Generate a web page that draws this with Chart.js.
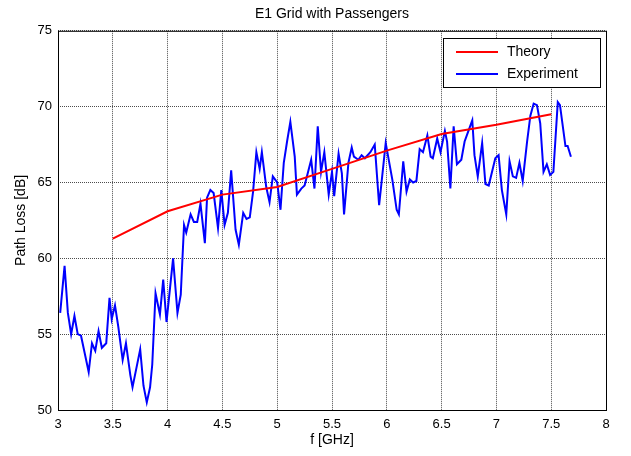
<!DOCTYPE html>
<html>
<head>
<meta charset="utf-8">
<script src="https://cdn.jsdelivr.net/npm/chart.js@4/dist/chart.umd.min.js"></script>
<style>
  html, body { margin: 0; padding: 0; background: #fff; }
</style>
</head>
<body>
<canvas id="lossChart" width="631" height="456"></canvas>
<script>
// theory curve
const theoryFreq = [3.5, 4.0, 4.5, 5.0, 5.5, 6.0, 6.5, 7.0, 7.5];
const theoryLoss = [61.3, 63.1, 64.2, 64.7, 65.9, 67.1, 68.2, 68.8, 69.5];

const expFreq = [3.02,3.06,3.09,3.12,3.15,3.18,3.21,3.28,3.31,3.34,
  3.37,3.40,3.44,3.47,3.49,3.52,3.55,3.59,3.62,3.66,
  3.68,3.75,3.78,3.81,3.84,3.86,3.89,3.93,3.96,3.99,
  4.05,4.09,4.12,4.15,4.17,4.21,4.24,4.27,4.30,4.34,
  4.36,4.39,4.42,4.46,4.49,4.52,4.55,4.58,4.62,4.65,
  4.69,4.72,4.75,4.78,4.81,4.84,4.86,4.90,4.93,4.96,
  5.00,5.03,5.06,5.09,5.12,5.16,5.18,5.22,5.25,5.31,
  5.34,5.37,5.40,5.43,5.47,5.50,5.52,5.56,5.59,5.61,
  5.65,5.68,5.70,5.74,5.77,5.80,5.85,5.89,5.93,5.99,
  6.05,6.09,6.11,6.15,6.18,6.21,6.24,6.27,6.30,6.33,
  6.37,6.40,6.42,6.46,6.49,6.53,6.55,6.58,6.61,6.64,
  6.68,6.71,6.74,6.78,6.80,6.83,6.87,6.90,6.93,6.99,
  7.02,7.05,7.09,7.12,7.15,7.18,7.21,7.24,7.28,7.31,
  7.34,7.37,7.40,7.43,7.46,7.49,7.52,7.56,7.58,7.63,
  7.65,7.68];
const expLoss = [56.4,59.5,56.4,55.0,56.2,55.0,54.9,52.5,54.4,53.9,
  55.2,54.1,54.4,57.4,56.0,56.9,55.5,53.3,54.4,52.3,
  51.5,54.0,51.6,50.5,51.5,53.0,57.7,56.3,58.6,55.8,
  60.0,56.4,57.6,62.2,61.7,62.9,62.4,62.4,63.6,61.0,
  64.0,64.5,64.3,62.0,64.5,62.2,63.0,65.8,61.9,60.9,
  63.0,62.6,62.7,64.4,67.0,65.9,67.0,64.7,63.7,65.4,
  65.0,63.2,66.3,67.7,69.0,66.7,64.2,64.6,64.8,66.5,
  64.6,68.7,65.7,67.0,64.2,65.7,64.1,66.9,65.6,62.9,
  66.3,67.3,66.7,66.5,66.8,66.6,67.0,67.5,63.5,67.6,
  65.2,63.2,62.9,66.4,64.4,65.2,65.0,65.1,67.2,67.0,
  68.1,66.7,66.6,67.9,67.0,68.4,67.7,64.6,68.7,66.2,
  66.5,67.7,68.3,69.1,66.8,65.4,67.6,64.9,64.8,66.6,
  66.8,64.5,62.9,66.4,65.4,65.3,66.3,65.1,67.7,69.4,
  70.2,70.1,68.9,65.7,66.2,65.5,65.7,70.3,70.1,67.4,
  67.4,66.7];

const xRange = [3, 8];
const yRange = [50, 75];

const FONT = 'Arial, "Liberation Sans", sans-serif';

// box around the plot + matlab style legend in the upper right
const framePlugin = {
  id: 'frame',
  afterDraw(chart) {
    const ctx = chart.ctx;
    const a = chart.chartArea;
    ctx.save();
    ctx.strokeStyle = '#000';
    ctx.lineWidth = 1;
    ctx.setLineDash([]);
    ctx.strokeRect(a.left + 0.5, a.top + 0.5, a.right - a.left, a.bottom - a.top);

    const boxL = 443, boxT = 38, boxW = 157, boxH = 49;
    ctx.fillStyle = '#fff';
    ctx.fillRect(boxL, boxT, boxW, boxH);
    ctx.strokeRect(boxL + 0.5, boxT + 0.5, boxW, boxH);
    ctx.font = '14px ' + FONT;
    ctx.textBaseline = 'middle';
    chart.data.datasets.forEach((ds, i) => {
      const y = boxT + 14 + i * 22;
      ctx.strokeStyle = ds.borderColor;
      ctx.lineWidth = 2;
      ctx.beginPath();
      ctx.moveTo(boxL + 13, y);
      ctx.lineTo(boxL + 55, y);
      ctx.stroke();
      ctx.fillStyle = '#000';
      ctx.fillText(ds.label, boxL + 64, y);
    });
    ctx.restore();
  }
};

new Chart(document.getElementById('lossChart'), {
  type: 'line',
  data: {
    datasets: [{
      label: 'Theory',
      data: theoryFreq.map((f, i) => ({ x: f, y: theoryLoss[i] })),
      borderColor: '#ff0000',
      borderWidth: 2,
      pointRadius: 0,
      tension: 0
    }, {
      label: 'Experiment',
      data: expFreq.map((f, i) => ({ x: f, y: expLoss[i] })),
      borderColor: '#0000ff',
      borderWidth: 2,
      pointRadius: 0,
      tension: 0
    }]
  },
  options: {
    responsive: false,
    animation: false,
    layout: { padding: { left: 0, right: 25, top: 0, bottom: 0 } },
    plugins: {
      legend: { display: false },
      tooltip: { enabled: false },
      title: {
        display: true,
        text: 'E1 Grid with Passengers',
        fullSize: false,
        color: '#000',
        font: { family: FONT, size: 14, weight: 'normal' },
        padding: { top: 6, bottom: 8 }
      }
    },
    scales: {
      x: {
        type: 'linear',
        min: xRange[0],
        max: xRange[1],
        ticks: {
          stepSize: 0.5,
          color: '#000',
          padding: 7,
          maxRotation: 0,
          font: { family: FONT, size: 13 },
          callback: v => String(v)
        },
        grid: {
          color: 'rgba(0,0,0,0.7)',
          drawTicks: false
        },
        border: { display: false, dash: [1, 1] },
        title: {
          display: true,
          text: 'f [GHz]',
          color: '#000',
          font: { family: FONT, size: 14 },
          padding: { top: 0, bottom: 7 }
        },
        afterFit(scale) { scale.height = 46; }
      },
      y: {
        min: yRange[0],
        max: yRange[1],
        ticks: {
          stepSize: 5,
          color: '#000',
          padding: 6,
          font: { family: FONT, size: 13 },
          callback: v => String(v)
        },
        grid: {
          color: 'rgba(0,0,0,0.7)',
          drawTicks: false
        },
        border: { display: false, dash: [1, 1] },
        title: {
          display: true,
          text: 'Path Loss [dB]',
          color: '#000',
          font: { family: FONT, size: 14 },
          padding: { top: 13, bottom: 0 }
        },
        afterFit(scale) { scale.width = 58; }
      }
    }
  },
  plugins: [framePlugin]
});
</script>
</body>
</html>
